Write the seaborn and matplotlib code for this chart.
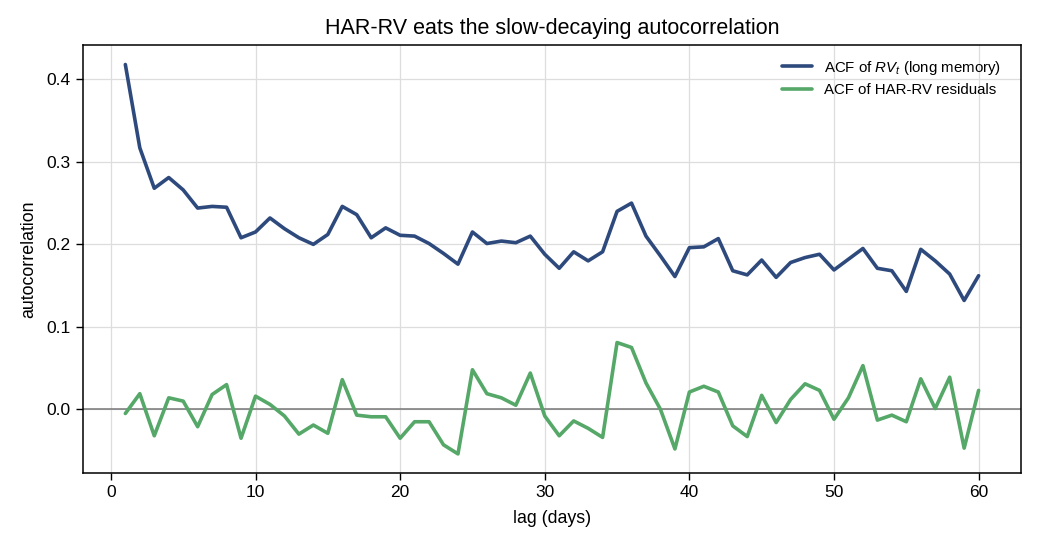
import numpy as np
import pandas as pd
import matplotlib
matplotlib.use("Agg")
import matplotlib.pyplot as plt
import seaborn as sns

lags = list(range(1, 61))
acf_rv = [0.418, 0.317, 0.268, 0.281, 0.266, 0.244, 0.246, 0.245, 0.208, 0.215,
          0.232, 0.219, 0.208, 0.200, 0.212, 0.246, 0.236, 0.208, 0.220, 0.211,
          0.210, 0.201, 0.189, 0.176, 0.215, 0.201, 0.204, 0.202, 0.210, 0.188,
          0.171, 0.191, 0.180, 0.191, 0.240, 0.250, 0.210, 0.186, 0.161, 0.196,
          0.197, 0.207, 0.168, 0.163, 0.181, 0.160, 0.178, 0.184, 0.188, 0.169,
          0.182, 0.195, 0.171, 0.168, 0.143, 0.194, 0.180, 0.164, 0.132, 0.162]
acf_resid = [-0.005, 0.019, -0.032, 0.014, 0.010, -0.021, 0.018, 0.030, -0.035, 0.016,
             0.006, -0.008, -0.030, -0.019, -0.029, 0.036, -0.007, -0.009, -0.009, -0.035,
             -0.015, -0.015, -0.043, -0.054, 0.048, 0.019, 0.014, 0.005, 0.044, -0.008,
             -0.032, -0.014, -0.023, -0.034, 0.081, 0.075, 0.032, 0.000, -0.048, 0.021,
             0.028, 0.021, -0.020, -0.033, 0.017, -0.016, 0.012, 0.031, 0.023, -0.012,
             0.014, 0.053, -0.013, -0.007, -0.015, 0.037, 0.001, 0.039, -0.047, 0.023]

label_rv = r"ACF of $RV_t$ (long memory)"
label_res = "ACF of HAR-RV residuals"

df = pd.DataFrame({
    "lag": lags * 2,
    "acf": acf_rv + acf_resid,
    "series": [label_rv] * len(lags) + [label_res] * len(lags),
})

sns.set_theme(style="whitegrid")
plt.rcParams["font.family"] = ["Liberation Sans", "DejaVu Sans"]
plt.rcParams["mathtext.fontset"] = "custom"
plt.rcParams["mathtext.it"] = "Liberation Sans:italic"
plt.rcParams["mathtext.rm"] = "Liberation Sans"
plt.rcParams["text.color"] = "black"
plt.rcParams["axes.labelcolor"] = "black"
plt.rcParams["xtick.color"] = "black"
plt.rcParams["ytick.color"] = "black"

fig, ax = plt.subplots(figsize=(10.4, 5.46), dpi=100)
fig.subplots_adjust(left=0.0795, right=0.982, top=0.9175, bottom=0.133)

sns.lineplot(data=df, x="lag", y="acf", hue="series",
             palette={label_rv: "#2e4a7d", label_res: "#55a868"},
             linewidth=2.6, ax=ax)
ax.axhline(0, color="#777777", linewidth=1.1, zorder=1)

ax.set_title("HAR-RV eats the slow-decaying autocorrelation", fontsize=15.5, pad=8)
ax.set_xlabel("lag (days)", fontsize=12.8, labelpad=7)
ax.set_ylabel("autocorrelation", fontsize=12.8, labelpad=7)
ax.tick_params(axis="both", labelsize=12.5, length=5, width=1, color="black",
               bottom=True, left=True)
ax.set_xticks([0, 10, 20, 30, 40, 50, 60])
ax.set_yticks([0.0, 0.1, 0.2, 0.3, 0.4])
ax.grid(True, color="#dddddd", linewidth=0.9)
for s in ax.spines.values():
    s.set_color("black")
    s.set_linewidth(1.1)

leg = ax.legend(loc="upper right", frameon=False, fontsize=10.8, title=None,
                bbox_to_anchor=(0.993, 1.0), labelspacing=0.45)

fig.savefig("out.png", dpi=100)
